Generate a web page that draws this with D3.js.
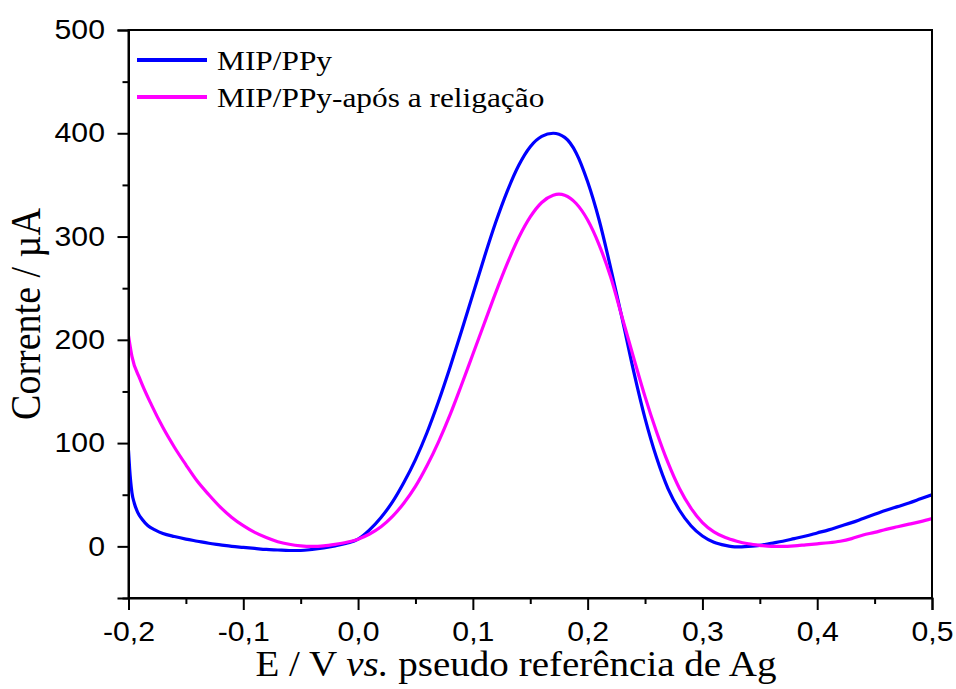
<!DOCTYPE html>
<html>
<head>
<meta charset="utf-8">
<script src="https://cdn.jsdelivr.net/npm/d3@7"></script>
<style>
  html, body { margin: 0; padding: 0; background: #fff; }
  svg { display: block; }
</style>
</head>
<body>
<svg id="chart" width="956" height="689"></svg>
<script>
// Differential pulse voltammograms: current (µA) vs potential (V vs. Ag pseudo-reference)
const seriesNames = ["MIP/PPy", "MIP/PPy-após a religação"];
const seriesColors = ["#0000ff", "#ff00ff"];

const potentialMip = [-0.2, -0.199, -0.197, -0.195, -0.192, -0.188, -0.183, -0.177, -0.17, -0.16, -0.15, -0.14, -0.13, -0.12, -0.11, -0.1, -0.09, -0.08, -0.07, -0.06, -0.05, -0.04, -0.03, -0.02, -0.01,
  0.0, 0.01, 0.02, 0.03, 0.04, 0.05, 0.06, 0.07, 0.08, 0.09, 0.1, 0.11, 0.12, 0.13, 0.14, 0.15, 0.16, 0.17, 0.18, 0.19,
  0.2, 0.21, 0.22, 0.23, 0.24, 0.25, 0.26, 0.27, 0.28, 0.29, 0.3, 0.31, 0.32, 0.33, 0.34, 0.35, 0.36, 0.37, 0.38, 0.39,
  0.4, 0.41, 0.42, 0.43, 0.44, 0.45, 0.46, 0.47, 0.48, 0.49, 0.5];
const currentMip = [93, 75, 52, 42, 33, 26, 20, 16, 12.5, 9.5, 7, 5, 3, 1.5, 0, -1, -2, -3, -3.5, -4, -4, -3, -1.5, 0.5, 3,
  7, 16, 28, 43, 62, 84, 110, 140, 173, 208, 244, 280, 314, 344, 369, 387, 397, 400, 396, 381,
  353, 316, 270, 221, 170, 124, 86, 56, 35, 20, 10, 4, 1, -0.5, 0, 1, 3, 5, 7.5, 10,
  13, 16, 19.5, 23, 27, 31, 35, 38.5, 42, 46, 50];

const potentialRebind = [-0.2, -0.197, -0.19, -0.18, -0.17, -0.16, -0.15, -0.14, -0.13, -0.12, -0.11, -0.1, -0.09, -0.08, -0.07, -0.06, -0.05, -0.04, -0.03, -0.02, -0.01,
  0.0, 0.01, 0.02, 0.03, 0.04, 0.05, 0.06, 0.07, 0.08, 0.09, 0.1, 0.11, 0.12, 0.13, 0.14, 0.15, 0.16, 0.17, 0.175, 0.18, 0.19,
  0.2, 0.21, 0.22, 0.23, 0.24, 0.25, 0.26, 0.27, 0.28, 0.29, 0.3, 0.31, 0.32, 0.33, 0.34, 0.35, 0.36, 0.37, 0.38, 0.39,
  0.4, 0.41, 0.42, 0.43, 0.44, 0.45, 0.46, 0.47, 0.48, 0.49, 0.5];
const currentRebind = [204, 184, 162, 137, 115, 96, 79, 63, 50, 38, 28, 20, 13.5, 8.5, 4.5, 2, 0.5, 0, 0.5, 2, 4,
  7, 12, 19, 29, 42, 58, 78, 101, 127, 156, 186, 216, 246, 274, 299, 319, 333, 340, 341, 340, 332,
  316, 292, 261, 222, 183, 145, 111, 81, 56, 37, 23, 14, 8.5, 5, 2.5, 1, 0, 0, 0.5, 1.5,
  2.5, 3.5, 5, 7.5, 11, 13.5, 16.5, 19, 21.5, 24, 27];

const xTicks = [-0.2, -0.1, 0.0, 0.1, 0.2, 0.3, 0.4, 0.5];
const xMinorTicks = [-0.15, -0.05, 0.05, 0.15, 0.25, 0.35, 0.45];
const yTicks = [0, 100, 200, 300, 400, 500];
const yMinorTicks = [-50, 50, 150, 250, 350, 450];

const series = [
  { name: seriesNames[0], color: seriesColors[0], xs: potentialMip, ys: currentMip },
  { name: seriesNames[1], color: seriesColors[1], xs: potentialRebind, ys: currentRebind }
];

const plot = { left: 128.5, top: 30, right: 932, bottom: 598 };
const svg = d3.select("#chart");

const x = d3.scaleLinear().domain([-0.2, 0.5]).range([plot.left, plot.right]);
const y = d3.scaleLinear().domain([-50, 500]).range([plot.bottom, plot.top]);

const fmt = d => d3.format(".1f")(d).replace(".", ",").replace("−", "-");

// clip region for the curves
svg.append("defs").append("clipPath").attr("id", "plotClip")
  .append("rect")
  .attr("x", plot.left).attr("y", plot.top)
  .attr("width", plot.right - plot.left).attr("height", plot.bottom - plot.top);

// curves
const line = d3.line()
  .x(d => x(d[0]))
  .y(d => y(d[1]))
  .curve(d3.curveMonotoneX);

const curves = svg.append("g").attr("clip-path", "url(#plotClip)");
series.forEach(s => {
  curves.append("path")
    .datum(d3.zip(s.xs, s.ys))
    .attr("fill", "none")
    .attr("stroke", s.color)
    .attr("stroke-width", 3.2)
    .attr("stroke-linejoin", "round")
    .attr("d", line);
});

// frame
svg.append("rect")
  .attr("x", plot.left).attr("y", plot.top)
  .attr("width", plot.right - plot.left).attr("height", plot.bottom - plot.top)
  .attr("fill", "none").attr("stroke", "#000").attr("stroke-width", 2);

// bottom axis
const xAxis = svg.append("g")
  .attr("transform", `translate(0,${plot.bottom})`)
  .call(d3.axisBottom(x).tickValues(xTicks).tickFormat(fmt).tickSize(12).tickPadding(12));
svg.append("g")
  .attr("transform", `translate(0,${plot.bottom})`)
  .call(d3.axisBottom(x).tickValues(xMinorTicks).tickFormat("").tickSize(6))
  .call(g => g.select(".domain").remove());

// left axis
const yAxis = svg.append("g")
  .attr("transform", `translate(${plot.left},0)`)
  .call(d3.axisLeft(y).tickValues(yTicks).tickFormat(d3.format("d")).tickSize(11).tickPadding(10));
svg.append("g")
  .attr("transform", `translate(${plot.left},0)`)
  .call(d3.axisLeft(y).tickValues(yMinorTicks).tickFormat("").tickSize(6))
  .call(g => g.select(".domain").remove());

svg.selectAll(".domain").attr("stroke-width", 2);
svg.selectAll(".tick line").attr("stroke-width", 2);

[xAxis, yAxis].forEach(ax => ax.selectAll("text")
  .attr("font-family", "'Liberation Sans', Arial, sans-serif")
  .attr("font-size", 27)
  .attr("fill", "#000")
  .attr("transform", "scale(1.12,1)"));

// axis titles
const xTitle = svg.append("text")
  .attr("transform", `translate(516,676) scale(1.1,1)`)
  .attr("text-anchor", "middle")
  .attr("font-family", "'Liberation Serif', 'Times New Roman', serif")
  .attr("font-size", 35.5)
  .attr("fill", "#000");
xTitle.append("tspan").text("E / V ");
xTitle.append("tspan").attr("font-style", "italic").text("vs.");
xTitle.append("tspan").text(" pseudo referência de Ag");

svg.append("text")
  .attr("transform", `translate(40,${(plot.top + plot.bottom) / 2}) rotate(-90) scale(1,1.1)`)
  .attr("text-anchor", "middle")
  .attr("font-family", "'Liberation Serif', 'Times New Roman', serif")
  .attr("font-size", 38)
  .attr("fill", "#000")
  .text("Corrente / µA");

// legend
const legend = svg.append("g");
series.forEach((s, i) => {
  const ly = 60 + i * 37;
  legend.append("line")
    .attr("x1", 137).attr("x2", 207)
    .attr("y1", ly).attr("y2", ly)
    .attr("stroke", s.color).attr("stroke-width", 4);
  legend.append("text")
    .attr("transform", `translate(217,${ly + 10}) scale(1.12,1)`)
    .attr("font-family", "'Liberation Serif', 'Times New Roman', serif")
    .attr("font-size", 28)
    .attr("fill", "#000")
    .text(s.name);
});
</script>
</body>
</html>
